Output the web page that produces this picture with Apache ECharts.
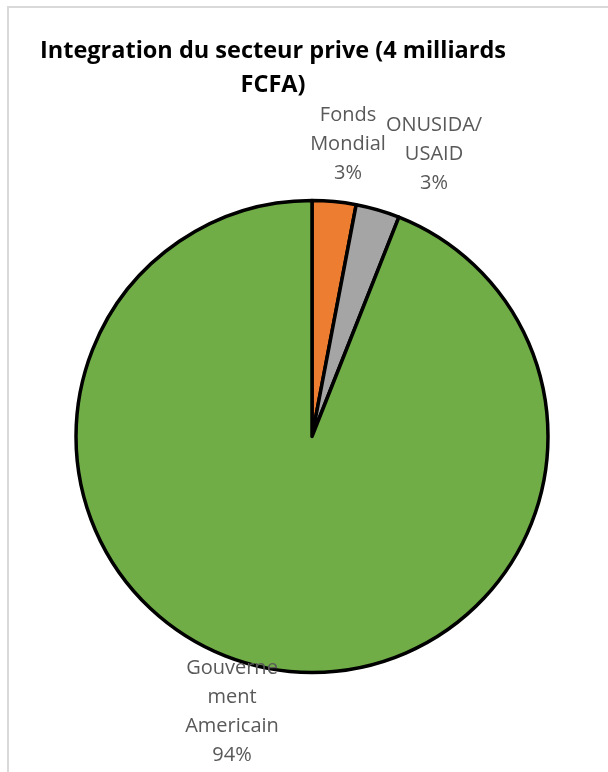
<!DOCTYPE html>
<html>
<head>
<meta charset="utf-8">
<script src="https://cdn.jsdelivr.net/npm/echarts@6/dist/echarts.min.js"></script>
<style>
  html, body { margin: 0; padding: 0; background: #ffffff; }
  #chart { width: 608px; height: 772px; }
</style>
</head>
<body>
<div id="chart"></div>
<script>
// Funding sources for the private-sector integration (4 milliards FCFA)
const sources = ['Fonds\nMondial', 'ONUSIDA/\nUSAID', 'Gouverne\nment\nAmericain'];
const shares = [3, 3, 94];
const sliceColors = ['#ed7d31', '#a5a5a5', '#70ad47'];

// where each data label sits (centre of the text block)
const labelSpots = [[348, 144], [434, 154], [232, 712]];

const chart = echarts.init(document.getElementById('chart'), null, { renderer: 'canvas' });

chart.setOption({
  animation: false,
  backgroundColor: '#ffffff',
  title: {
    text: 'Integration du secteur prive (4 milliards\nFCFA)',
    left: 268,
    top: 29,
    textAlign: 'center',
    textStyle: {
      fontFamily: 'Open Sans',
      fontWeight: 'bold',
      fontSize: 23.5,
      lineHeight: 34,
      color: '#000000',
      align: 'center'
    }
  },
  graphic: [{
    type: 'rect',
    silent: true,
    shape: { x: 8, y: 7, width: 640, height: 820 },
    style: { fill: null, stroke: '#d9d9d9', lineWidth: 2 }
  }],
  series: [{
    type: 'pie',
    center: [312, 436.5],
    radius: 236,
    startAngle: 90,
    clockwise: true,
    data: sources.map((name, i) => ({
      name: name,
      value: shares[i],
      itemStyle: { color: sliceColors[i] }
    })),
    itemStyle: { borderColor: '#000000', borderWidth: 3.5 },
    label: {
      show: true,
      position: 'outside',
      overflow: 'none',
      formatter: p => p.name + '\n' + Math.round(p.percent) + '%',
      fontFamily: 'Open Sans',
      fontSize: 20,
      lineHeight: 29,
      color: '#595959',
      align: 'center'
    },
    labelLine: { show: false },
    labelLayout: p => ({
      x: labelSpots[p.dataIndex][0],
      y: labelSpots[p.dataIndex][1],
      align: 'center',
      verticalAlign: 'middle'
    }),
    emphasis: { disabled: true }
  }]
});
</script>
</body>
</html>
